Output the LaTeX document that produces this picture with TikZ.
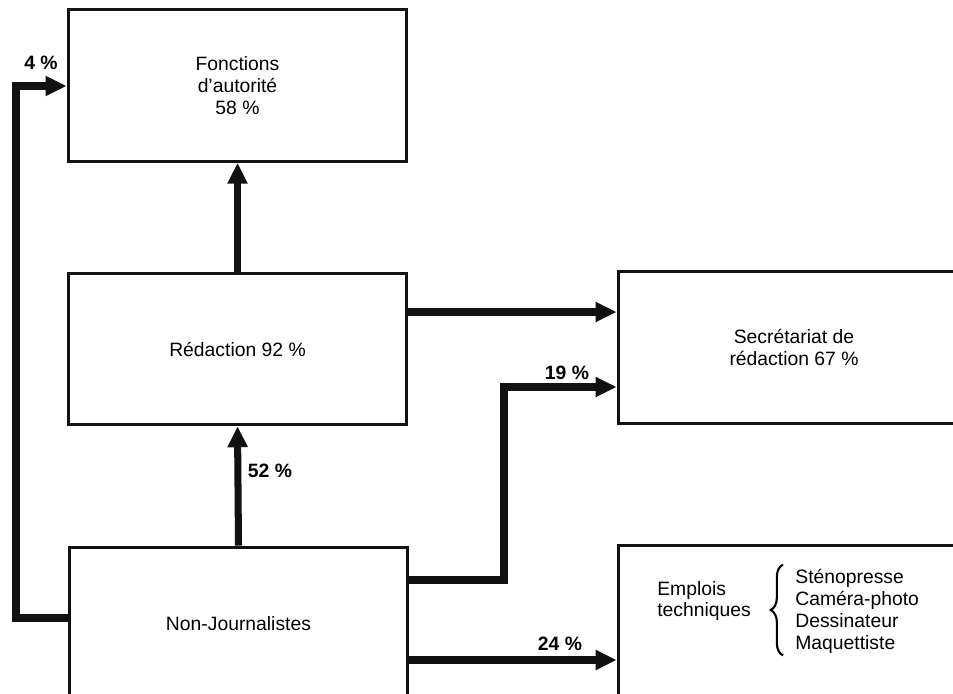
\documentclass[tikz,border=0pt]{standalone}
\usepackage{fontspec}
\setmainfont{Liberation Sans}
\usepackage{tikz}
\usetikzlibrary{arrows.meta,positioning,calc,decorations.pathreplacing}
\definecolor{inkblack}{HTML}{111111}
\tikzset{
  box/.style={draw=inkblack,line width=1.7pt,align=center,font=\fontsize{11}{12.5}\selectfont,minimum width=6.78cm,minimum height=3.03cm,inner sep=0pt},
  wbox/.style={box,minimum width=7.04cm},
  txt/.style={align=left,font=\fontsize{11}{12.5}\selectfont,inner sep=0pt},
  pct/.style={font=\fontsize{11}{12}\selectfont\bfseries,inner sep=0pt},
  flow/.style={draw=inkblack,line width=4pt,-{Triangle[length=0.42cm,width=0.38cm]}},
}
\begin{document}
\begin{tikzpicture}[x=0.02cm,y=-0.02cm]
  \useasboundingbox (0,0) rectangle (953,693);
  \node[box] (fonct) at (237.5,85.5) {Fonctions\\d’autorité\\58~\%};
  \node[box] (redac) at (237.5,349) {Rédaction 92~\%};
  \node[box,minimum height=3.06cm] (nonj) at (238.5,623.5) {Non-Journalistes};
  \node[wbox] (secr) at (794,347.5) {Secrétariat de\\rédaction 67~\%};
  \node[wbox,minimum height=3.2cm] (empl) at (794,625) {};
  \node[txt] (emptxt) at (704,601) {Emplois\\techniques};
  \node[txt,anchor=west] (postes) at (795,611) {Sténopresse\\Caméra-photo\\Dessinateur\\Maquettiste};
  \draw[line width=1.2pt,decorate,decoration={brace,amplitude=7pt}] ($(postes.south west)+(-12,2)$) -- ($(postes.north west)+(-12,-4)$);
  % connecteurs
  \coordinate (b4) at (16,86);
  \coordinate (b19) at (504,387);
  \draw[flow] (nonj.west |- 0,618) -| (b4) -- (fonct.west |- b4);
  \draw[flow] (redac.north) -- (fonct.south);
  \draw[flow] (nonj.north) -- (redac.south);
  \draw[flow] (redac.east |- 0,312) -- (secr.west |- 0,312);
  \draw[flow] (nonj.east |- 0,580) -| (b19) -- (secr.west |- b19);
  \draw[flow] (nonj.east |- 0,660) -- (empl.west |- 0,660);
  \node[pct] (p4) at (41,63) {4~\%};
  \node[pct] (p52) at (270,471) {52~\%};
  \node[pct] (p19) at (567,373) {19~\%};
  \node[pct] (p24) at (560,644) {24~\%};
\end{tikzpicture}
\end{document}
